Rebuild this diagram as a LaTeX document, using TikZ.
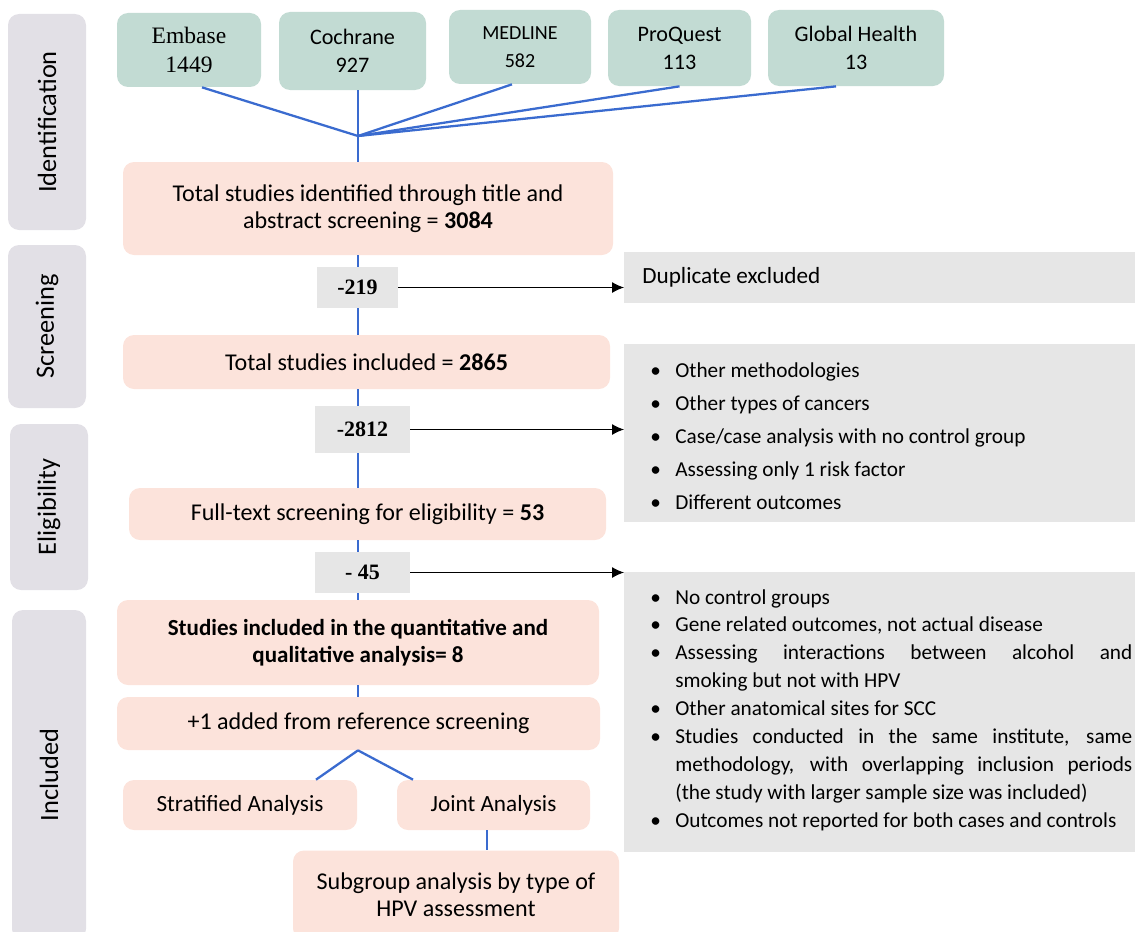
\documentclass[tikz,border=0pt]{standalone}
\usepackage{fontspec}
\setmainfont{Carlito}
\newfontfamily\cambria{Liberation Serif}
\usepackage{xcolor}
\usetikzlibrary{arrows.meta, positioning}

\definecolor{dbgreen}{HTML}{C2DBD3}
\definecolor{pinkbox}{HTML}{FCE3DB}
\definecolor{greybox}{HTML}{E6E6E6}
\definecolor{phasegrey}{HTML}{E2E0E6}
\definecolor{lineblue}{HTML}{3A6BCF}

\newcommand{\exitem}[1]{\par\noindent\hangindent=0.5cm\hangafter=1\makebox[0.5cm][l]{\textbullet}#1\par}

\begin{document}
\begin{tikzpicture}[
    phase/.style={rectangle, rounded corners=0.22cm, fill=phasegrey, rotate=90, minimum height=1.56cm, font=\fontsize{15}{18}\selectfont},
    db/.style={rectangle, rounded corners=0.22cm, fill=dbgreen, align=center, minimum width=2.88cm, minimum height=1.48cm, font=\fontsize{12.6}{16}\selectfont},
    stage/.style={rectangle, rounded corners=0.22cm, fill=pinkbox, align=center, font=\fontsize{13.7}{15.2}\selectfont},
    cut/.style={rectangle, fill=greybox, font=\cambria\bfseries\fontsize{12.5}{15}\selectfont},
    reason/.style={rectangle, fill=greybox, anchor=west, inner xsep=0.52cm, inner ysep=0pt, text width=9.64cm, align=justify},
    link/.style={draw=lineblue, line width=1.3pt},
    cutarrow/.style={-{Latex[length=2.4mm,width=2.2mm]}, line width=0.6pt}
]
\useasboundingbox (0,0) rectangle (22.7,-18.62);

% Phase labels
\node[phase, minimum width=4.32cm] (ident) at (0.94,-2.44) {Identification};
\node[phase, minimum width=3.26cm] (screen) at (0.94,-6.53) {Screening};
\node[phase, minimum width=3.32cm] (elig) at (0.98,-10.14) {Eligibility};
\node[phase, minimum width=6.6cm, minimum height=1.48cm] (included) at (0.98,-15.5) {Included};

% Databases
\node[db, font=\cambria\fontsize{13.4}{16}\selectfont] (embase) at (3.78,-1.0) {Embase\\1449};
\node[db, minimum width=2.94cm, minimum height=1.56cm] (cochrane) at (7.05,-1.02) {Cochrane\\927};
\node[db, minimum width=2.84cm, font=\fontsize{11.4}{16}\selectfont] (medline) at (10.4,-0.94) {MEDLINE\\582};
\node[db, minimum width=2.86cm, minimum height=1.52cm] (proquest) at (13.59,-0.96) {ProQuest\\113};
\node[db, minimum width=3.52cm, minimum height=1.52cm] (global) at (17.12,-0.96) {Global Health\\13};
\coordinate (jn) at (7.16,-2.72);

% Main flow
\node[stage, minimum width=9.8cm, minimum height=1.86cm] (total) at (7.36,-4.17) {Total studies identified through title and\\abstract screening = \textbf{3084}};
\node[cut, minimum width=1.62cm, minimum height=0.82cm] (m219) at (7.15,-5.75) {-219};
\node[stage, minimum width=9.74cm, minimum height=1.08cm] (incl) at (7.33,-7.24) {Total studies included = \textbf{2865}};
\node[cut, minimum width=1.9cm, minimum height=0.94cm] (m2812) at (7.25,-8.59) {-2812};
\node[stage, minimum width=9.54cm, minimum height=1.04cm] (fulltext) at (7.35,-10.28) {Full-text screening for eligibility = \textbf{53}};
\node[cut, minimum width=1.9cm, minimum height=0.82cm] (m45) at (7.25,-11.45) {- 45};
\node[stage, minimum width=9.64cm, minimum height=1.7cm, font=\bfseries\fontsize{13.1}{15.2}\selectfont] (quant) at (7.16,-12.85) {Studies included in the quantitative and\\qualitative analysis= 8};
\node[stage, minimum width=9.66cm, minimum height=1.06cm] (added) at (7.17,-14.47) {+1 added from reference screening};
\node[stage, minimum width=4.68cm, minimum height=1.0cm, font=\fontsize{13.2}{15}\selectfont] (strat) at (4.8,-16.1) {Stratified Analysis};
\node[stage, minimum width=3.86cm, minimum height=1.0cm, font=\fontsize{13.2}{15}\selectfont] (joint) at (9.87,-16.1) {Joint Analysis};
\node[stage, minimum width=6.52cm, minimum height=1.78cm] (subgrp) at (9.12,-17.9) {Subgroup analysis by type of\\HPV assessment};

% Exclusion reasons
\node[reason, minimum height=1.02cm, inner xsep=0.36cm, font=\fontsize{13.2}{16}\selectfont] (dup) at (12.48,-5.55) {Duplicate excluded};
\node[reason, minimum height=3.48cm, font=\fontsize{12.1}{18.8}\selectfont] (excl1) at (12.48,-8.66) {%
\exitem{Other methodologies}
\exitem{Other types of cancers}
\exitem{Case/case analysis with no control group}
\exitem{Assessing only 1 risk factor}
\exitem{Different outcomes}
\vspace{0.24cm}\hrule height 0pt};
\node[reason, minimum height=5.6cm, font=\fontsize{12.1}{15.9}\selectfont] (excl2) at (12.48,-14.24) {%
\exitem{No control groups}
\exitem{Gene related outcomes, not actual disease}
\exitem{Assessing interactions between alcohol and\linebreak smoking but not with HPV}
\exitem{Other anatomical sites for SCC}
\exitem{Studies conducted in the same institute, same\linebreak methodology, with overlapping inclusion periods\linebreak (the study with larger sample size was included)}
\exitem{Outcomes not reported for both cases and controls}
\vspace{0.34cm}\hrule height 0pt};

% Database links
\draw[link] ([xshift=0.26cm]embase.south) -- (jn);
\draw[link] (cochrane.south -| jn) -- (jn);
\draw[link] ([xshift=-0.16cm]medline.south) -- (jn);
\draw[link] (proquest.south) -- (jn);
\draw[link] ([xshift=-0.4cm]global.south) -- (jn);

% Vertical flow
\draw[link] (jn) -- (total.north -| jn);
\draw[link] (total.south -| jn) -- (m219.north -| jn);
\draw[link] (m219.south -| jn) -- (incl.north -| jn);
\draw[link] (incl.south -| jn) -- (m2812.north -| jn);
\draw[link] (m2812.south -| jn) -- (fulltext.north -| jn);
\draw[link] (fulltext.south -| jn) -- (m45.north -| jn);
\draw[link] (m45.south -| jn) -- (quant.north -| jn);
\draw[link] (quant.south -| jn) -- (added.north -| jn);
\draw[link] (added.south -| jn) -- ([xshift=1.52cm]strat.north);
\draw[link] (added.south -| jn) -- ([xshift=-1.61cm]joint.north);
\draw[link] ([xshift=-0.13cm]joint.south) -- ([xshift=-0.13cm]joint.south |- subgrp.north);

% Exclusions
\draw[cutarrow] (m219.east) -- (m219.east -| dup.west);
\draw[cutarrow] (m2812.east) -- (m2812.east -| excl1.west);
\draw[cutarrow] (m45.east) -- (m45.east -| excl2.west);

\end{tikzpicture}
\end{document}
